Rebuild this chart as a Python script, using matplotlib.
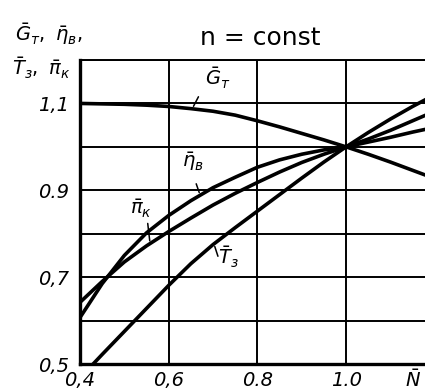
"""Relative engine parameters versus relative power at constant shaft speed."""

import matplotlib
matplotlib.use("Agg")
import matplotlib.pyplot as plt
import numpy as np

# relative power N (x axis)
N = [0.40, 0.45, 0.50, 0.55, 0.60, 0.65, 0.70, 0.75, 0.80, 0.85,
     0.90, 0.95, 1.00, 1.05, 1.10, 1.15, 1.20]

# relative fuel flow G_T
G_T = [1.100, 1.099, 1.098, 1.096, 1.093, 1.088, 1.082, 1.073, 1.060, 1.046,
       1.031, 1.016, 1.000, 0.983, 0.965, 0.946, 0.927]
# relative efficiency eta_v
ETA_V = [0.607, 0.685, 0.750, 0.802, 0.842, 0.876, 0.906, 0.930, 0.953, 0.970,
         0.983, 0.993, 1.000, 1.011, 1.022, 1.034, 1.045]
# relative compressor pressure ratio pi_k
PI_K = [0.642, 0.690, 0.735, 0.772, 0.805, 0.836, 0.866, 0.893, 0.918, 0.942,
        0.964, 0.983, 1.000, 1.018, 1.038, 1.060, 1.082]
# relative gas temperature T_3
T_3 = [0.468, 0.522, 0.575, 0.628, 0.681, 0.731, 0.775, 0.814, 0.852, 0.890,
       0.928, 0.965, 1.000, 1.033, 1.064, 1.093, 1.120]

Y_TICKS = [0.5, 0.6, 0.7, 0.8, 0.9, 1.0, 1.1, 1.2]
Y_LABELS = ["0,5", "", "0,7", "", "0.9", "", "1,1", ""]
X_TICKS = [0.4, 0.6, 0.8, 1.0]
X_LABELS = ["0,4", "0,6", "0.8", "1.0"]

W, H = 425, 392
fig = plt.figure(figsize=(W / 100, H / 100), dpi=100)
ax = fig.add_axes([80 / W, 28 / H, 1 - 80 / W, 304 / H])

for ys in (G_T, ETA_V, PI_K, T_3):
    ax.plot(N, ys, color="black", lw=2.6, solid_capstyle="butt", zorder=3)

ax.set_xlim(0.4, 1.178)
ax.set_ylim(0.5, 1.2)
ax.set_xticks(X_TICKS)
ax.set_xticklabels(X_LABELS)
ax.set_yticks(Y_TICKS)
ax.set_yticklabels(Y_LABELS)
ax.tick_params(length=0, labelsize=14)
ax.tick_params(axis="y", pad=8)
ax.tick_params(axis="x", pad=5)
for lab in ax.get_xticklabels() + ax.get_yticklabels():
    lab.set_fontstyle("italic")

ax.grid(True, color="black", lw=1.4)
ax.spines["right"].set_visible(False)
ax.spines["top"].set_linewidth(1.4)
ax.spines["left"].set_linewidth(2.4)
ax.spines["bottom"].set_linewidth(2.4)

# curve captions with short leader lines
def caption(text, label_xy, start_xy, x_on, series):
    target = (x_on, np.interp(x_on, N, series))
    ax.text(*label_xy, text, fontsize=14, style="italic", ha="center", va="center")
    ax.annotate("", xy=target, xytext=start_xy,
                arrowprops=dict(arrowstyle="-", lw=1.1, color="black"))

caption(r"$\bar{G}_т$", (0.711, 1.158), (0.670, 1.121), 0.653, G_T)
caption(r"$\bar{\eta}_в$", (0.655, 0.967), (0.660, 0.921), 0.671, ETA_V)
caption(r"$\bar{\pi}_к$", (0.538, 0.858), (0.552, 0.830), 0.558, PI_K)
caption(r"$\bar{T}_з$", (0.735, 0.745), (0.713, 0.742), 0.702, T_3)

fig.text(15 / W, 1 - 34 / H, r"$\bar{G}_т,\ \bar{\eta}_в,$", fontsize=14,
         ha="left", va="center")
fig.text(12 / W, 1 - 68 / H, r"$\bar{T}_з,\ \bar{\pi}_к$", fontsize=14,
         ha="left", va="center")
fig.text(260 / W, 1 - 45 / H, "n = const", fontsize=18, ha="center",
         va="baseline")
fig.text(413 / W, 1 - 380 / H, r"$\bar{N}$", fontsize=14, ha="center",
         va="center")

fig.savefig("out.png", dpi=100)
